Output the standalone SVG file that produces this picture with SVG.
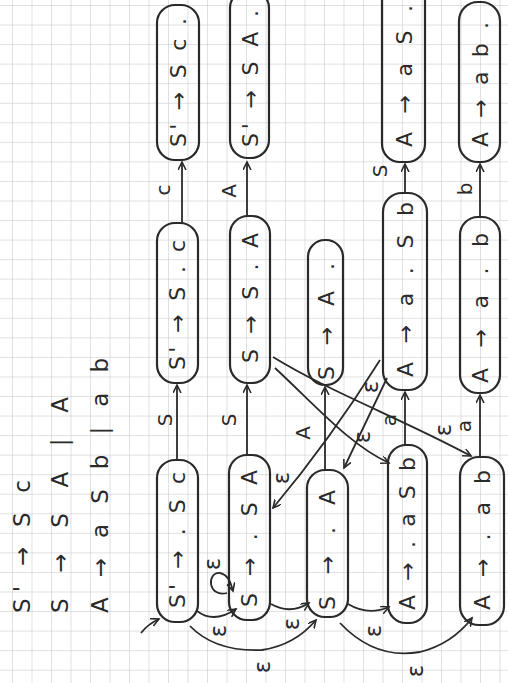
<svg xmlns="http://www.w3.org/2000/svg" width="508" height="683" viewBox="0 0 508 683">
<style>
.node rect{fill:none;stroke:#2a2a2a;stroke-width:2.2}
.t{font-family:"DejaVu Sans",sans-serif;font-size:22px;fill:#2a2a2a;dominant-baseline:central}
.g{font-family:"DejaVu Sans",sans-serif;font-size:23px;fill:#2a2a2a;dominant-baseline:central}
.l{font-family:"DejaVu Sans",sans-serif;font-size:20px;fill:#2a2a2a;dominant-baseline:central;text-anchor:middle}
.e{font-family:"DejaVu Sans",sans-serif;font-size:23px;fill:#2a2a2a;dominant-baseline:central;text-anchor:middle}
.edge{fill:none;stroke:#2a2a2a;stroke-width:1.8;marker-end:url(#arr)}
</style>
<defs>
<pattern id="grid" x="12" y="5" width="19.5" height="19.55" patternUnits="userSpaceOnUse">
<path d="M0,0 H19.5 M0,0 V19.55" fill="none" stroke="#c2c2c2" stroke-width="1"/>
</pattern>
<marker id="arr" markerWidth="10" markerHeight="10" refX="8" refY="4" orient="auto" markerUnits="userSpaceOnUse">
<path d="M0,0 L8,4 L0,8" fill="none" stroke="#2a2a2a" stroke-width="1.6"/>
</marker>
</defs>
<rect width="508" height="683" fill="#ffffff"/>
<rect width="508" height="683" fill="url(#grid)"/>

<g id="grammar">
<text class="g" transform="translate(22,613) rotate(-90)" textLength="133" lengthAdjust="spacing">S' → S c</text>
<text class="g" transform="translate(60,613) rotate(-90)" textLength="216" lengthAdjust="spacing">S → S A | A</text>
<text class="g" transform="translate(100,613) rotate(-90)" textLength="255" lengthAdjust="spacing">A → a S b | a b</text>
</g>

<g id="n1" class="node"><rect x="157" y="460" width="41" height="162" rx="18"/><text class="t" transform="translate(177,608) rotate(-90)" textLength="136" lengthAdjust="spacing">S' → . S c</text></g>
<g id="n2" class="node"><rect x="157" y="223" width="41" height="160" rx="18"/><text class="t" transform="translate(177,370) rotate(-90)" textLength="130" lengthAdjust="spacing">S' → S . c</text></g>
<g id="n3" class="node"><rect x="157" y="5" width="42" height="155" rx="18"/><text class="t" transform="translate(178,147) rotate(-90)" textLength="129" lengthAdjust="spacing">S' → S c .</text></g>
<g id="n4" class="node"><rect x="229" y="455" width="41" height="165" rx="18"/><text class="t" transform="translate(249,607) rotate(-90)" textLength="137" lengthAdjust="spacing">S → . S A</text></g>
<g id="n5" class="node"><rect x="230" y="216" width="40" height="167" rx="18"/><text class="t" transform="translate(250,363) rotate(-90)" textLength="130" lengthAdjust="spacing">S → S . A</text></g>
<g id="n6" class="node"><rect x="230" y="-10" width="39" height="168" rx="18"/><text class="t" transform="translate(250,147) rotate(-90)" textLength="137" lengthAdjust="spacing">S' → S A .</text></g>
<g id="n7" class="node"><rect x="308" y="240" width="35" height="145" rx="17"/><text class="t" transform="translate(326,380) rotate(-90)" textLength="117" lengthAdjust="spacing">S → A .</text></g>
<g id="n8" class="node"><rect x="307" y="470" width="41" height="147" rx="18"/><text class="t" transform="translate(327,610) rotate(-90)" textLength="120" lengthAdjust="spacing">S → . A</text></g>
<g id="n9" class="node"><rect x="382" y="-20" width="43" height="182" rx="18"/><text class="t" transform="translate(404,147) rotate(-90)" textLength="142" lengthAdjust="spacing">A → a S .</text></g>
<g id="n10" class="node"><rect x="383" y="193" width="44" height="197" rx="19"/><text class="t" transform="translate(405,377) rotate(-90)" textLength="175" lengthAdjust="spacing">A → a . S b</text></g>
<g id="n11" class="node"><rect x="388" y="445" width="39" height="178" rx="18"/><text class="t" transform="translate(407,610) rotate(-90)" textLength="153" lengthAdjust="spacing">A → . a S b</text></g>
<g id="n12" class="node"><rect x="459" y="2" width="41" height="160" rx="19"/><text class="t" transform="translate(480,147) rotate(-90)" textLength="125" lengthAdjust="spacing">A → a b .</text></g>
<g id="n13" class="node"><rect x="460" y="217" width="40" height="176" rx="18"/><text class="t" transform="translate(480,383) rotate(-90)" textLength="150" lengthAdjust="spacing">A → a . b</text></g>
<g id="n14" class="node"><rect x="460" y="457" width="44" height="168" rx="19"/><text class="t" transform="translate(482,610) rotate(-90)" textLength="140" lengthAdjust="spacing">A → . a b</text></g>

<g id="connectors">
<path class="edge" d="M141,633 Q148,624 159,619"/>
<path class="edge" d="M177,460 L177,385"/>
<path class="edge" d="M182,223 L182,162"/>
<path class="edge" d="M247,455 L247,385"/>
<path class="edge" d="M247,216 L247,162"/>
<path class="edge" d="M325,470 L325,387"/>
<path class="edge" d="M405,445 L405,392"/>
<path class="edge" d="M405,193 L405,164"/>
<path class="edge" d="M480,457 L480,395"/>
<path class="edge" d="M480,217 L480,164"/>

<path class="edge" d="M197,611 Q214,624 236,609"/>
<path class="edge" d="M227,593 C208,598 206,572 220,573 C229,575 231,584 233,591"/>
<path class="edge" d="M190,626 Q215,652 262,650 Q295,645 316,620"/>
<path class="edge" d="M271,604 Q290,615 309,603"/>
<path class="edge" d="M348,604 Q368,616 389,607"/>
<path class="edge" d="M340,623 Q375,660 420,652 Q452,644 472,618"/>

<path class="edge" d="M273,357 C330,392 400,418 471,456"/>
<path class="edge" d="M275,368 C318,408 350,445 389,463"/>
<path class="edge" d="M387,378 L344,468"/>
<path class="edge" d="M380,360 Q330,440 273,508"/>

<text class="l" transform="translate(165,420) rotate(-90)">S</text>
<text class="l" transform="translate(163,190) rotate(-90)">c</text>
<text class="l" transform="translate(229,420) rotate(-90)">S</text>
<text class="l" transform="translate(229,191) rotate(-90)">A</text>
<text class="l" transform="translate(303,433) rotate(-90)">A</text>
<text class="l" transform="translate(389,420) rotate(-90)">a</text>
<text class="l" transform="translate(380,171) rotate(-90)">S</text>
<text class="l" transform="translate(464,426) rotate(-90)">a</text>
<text class="l" transform="translate(465,189) rotate(-90)">b</text>

<text class="e" transform="translate(218,631) rotate(-90)">ε</text>
<text class="e" transform="translate(212,564) rotate(-90)">ε</text>
<text class="e" transform="translate(262,667) rotate(-90)">ε</text>
<text class="e" transform="translate(291,624) rotate(-90)">ε</text>
<text class="e" transform="translate(373,631) rotate(-90)">ε</text>
<text class="e" transform="translate(415,671) rotate(-90)">ε</text>
<text class="e" transform="translate(443,430) rotate(-90)">ε</text>
<text class="e" transform="translate(362,437) rotate(-90)">ε</text>
<text class="e" transform="translate(370,387) rotate(-90)">ε</text>
<text class="e" transform="translate(281,478) rotate(-90)">ε</text>
</g>
</svg>
